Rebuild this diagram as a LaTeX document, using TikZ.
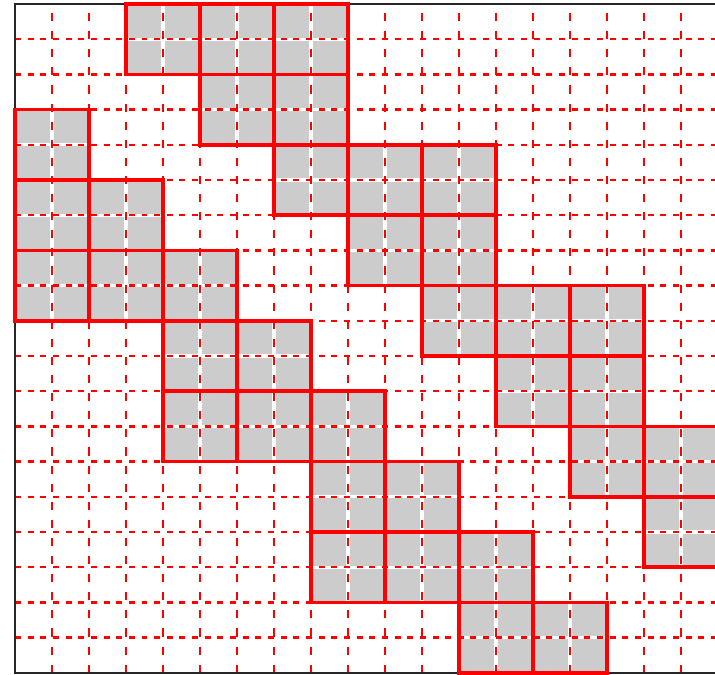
\documentclass[tikz,border=0pt]{standalone}
\usetikzlibrary{calc}
\definecolor{blockgray}{gray}{0.8}

\begin{document}
\begin{tikzpicture}[x=0.37cm, y=0.352cm,
    blockfill/.style={fill=blockgray},
    blockedge/.style={draw=red, line width=1.05pt},
    whiteline/.style={white, line width=0.9pt},
    hdash/.style={red, line width=0.7pt, dash pattern=on 1.7pt off 1.9pt},
    vdash/.style={red, line width=0.7pt, dash pattern=on 2.3pt off 2.85pt},
    frame/.style={black!85, line width=0.55pt}]
        % Define the number of cells per side
        \def\n{19}
        % Lower left corners of the 2x2 blocks
        \def\blocks{3/17,5/17,7/17, 5/15,7/15, 0/14, 0/12,2/12, 0/10,2/10,4/10,
          7/13,9/13,11/13, 9/11,11/11, 11/9,13/9,15/9, 13/7,15/7, 15/5,17/5, 17/3,
          4/8,6/8, 4/6,6/6,8/6, 8/4,10/4, 8/2,10/2,12/2, 12/0,14/0}

        \useasboundingbox (-0.4054,-0.0568) rectangle (18.919,19.1136);
        \clip (-0.4054,-0.0568) rectangle (18.919,19.1136);

        % Fill the blocks
        \foreach \x/\y in \blocks
          \fill[blockfill] (\x,\y) rectangle ++(2,2);

        % Draw the dashed grid over a white line
        \foreach \i in {1,...,18}
        {
          \draw[whiteline] (\i,0) -- (\i,\n);
          \draw[whiteline] (0,\i) -- (\n,\i);
        }
        \foreach \i in {1,...,18}
        {
          \draw[vdash] (\i,0) -- (\i,\n);
          \draw[hdash] (0,\i) -- (\n,\i);
        }

        % Draw the frame
        \draw[frame] (\n,\n) -- (0,\n) -- (0,0) -- (\n,0);

        % Draw the block borders
        \foreach \x/\y in \blocks
          \draw[blockedge] (\x,\y) rectangle ++(2,2);
      \end{tikzpicture}
\end{document}
